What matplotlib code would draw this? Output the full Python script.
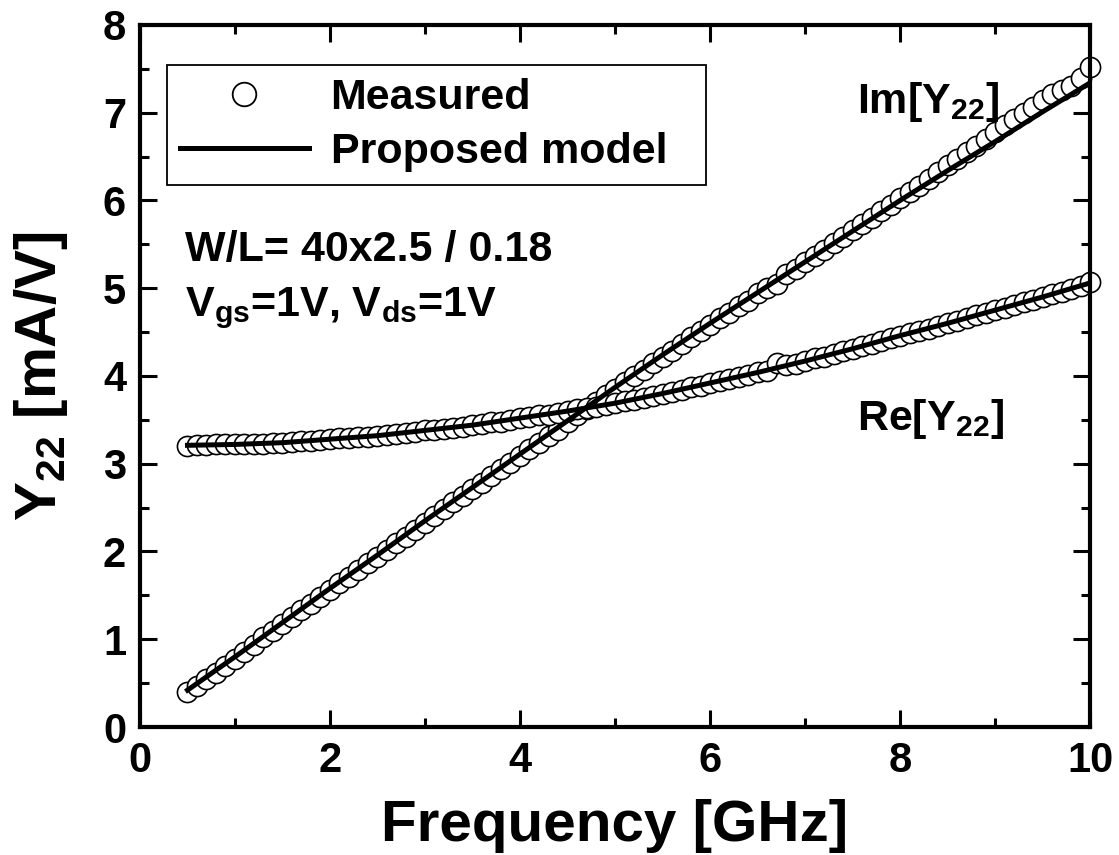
import matplotlib
matplotlib.use("Agg")
import matplotlib.pyplot as plt
from matplotlib.lines import Line2D
from matplotlib.ticker import MultipleLocator

# Fonts: bold Arial-like everywhere
plt.rcParams['font.family'] = ['Liberation Sans', 'DejaVu Sans']
plt.rcParams['font.weight'] = 'bold'
plt.rcParams['axes.labelweight'] = 'bold'
plt.rcParams['mathtext.fontset'] = 'custom'
plt.rcParams['mathtext.rm'] = 'Liberation Sans:bold'
plt.rcParams['mathtext.it'] = 'Liberation Sans:bold'
plt.rcParams['mathtext.bf'] = 'Liberation Sans:bold'
plt.rcParams['mathtext.default'] = 'rm'

# Measured sweep (GHz)
freq = [0.5, 0.6, 0.7, 0.8, 0.9, 1.0, 1.1, 1.2, 1.3, 1.4,
        1.5, 1.6, 1.7, 1.8, 1.9, 2.0, 2.1, 2.2, 2.3, 2.4,
        2.5, 2.6, 2.7, 2.8, 2.9, 3.0, 3.1, 3.2, 3.3, 3.4,
        3.5, 3.6, 3.7, 3.8, 3.9, 4.0, 4.1, 4.2, 4.3, 4.4,
        4.5, 4.6, 4.7, 4.8, 4.9, 5.0, 5.1, 5.2, 5.3, 5.4,
        5.5, 5.6, 5.7, 5.8, 5.9, 6.0, 6.1, 6.2, 6.3, 6.4,
        6.5, 6.6, 6.7, 6.8, 6.9, 7.0, 7.1, 7.2, 7.3, 7.4,
        7.5, 7.6, 7.7, 7.8, 7.9, 8.0, 8.1, 8.2, 8.3, 8.4,
        8.5, 8.6, 8.7, 8.8, 8.9, 9.0, 9.1, 9.2, 9.3, 9.4,
        9.5, 9.6, 9.7, 9.8, 9.9, 10.0]

# Measured Im[Y22] (mA/V)
im_meas = [0.40, 0.47, 0.55, 0.62, 0.70, 0.78, 0.86, 0.94, 1.02, 1.09,
           1.17, 1.25, 1.33, 1.40, 1.48, 1.56, 1.64, 1.71, 1.79, 1.87,
           1.94, 2.02, 2.10, 2.17, 2.25, 2.33, 2.40, 2.48, 2.56, 2.63,
           2.71, 2.78, 2.86, 2.94, 3.01, 3.09, 3.17, 3.24, 3.32, 3.39,
           3.47, 3.55, 3.62, 3.70, 3.78, 3.85, 3.93, 4.00, 4.07, 4.15,
           4.22, 4.29, 4.37, 4.44, 4.51, 4.58, 4.66, 4.72, 4.80, 4.86,
           4.94, 5.00, 5.05, 5.16, 5.22, 5.30, 5.37, 5.44, 5.51, 5.58,
           5.66, 5.73, 5.80, 5.88, 5.95, 6.03, 6.10, 6.17, 6.25, 6.32,
           6.40, 6.47, 6.55, 6.62, 6.70, 6.78, 6.86, 6.93, 7.00, 7.07,
           7.14, 7.21, 7.26, 7.30, 7.40, 7.52]

# Measured Re[Y22] (mA/V)
re_meas = [3.20, 3.21, 3.21, 3.22, 3.22, 3.22, 3.23, 3.23, 3.23, 3.24,
           3.24, 3.25, 3.26, 3.26, 3.27, 3.28, 3.29, 3.29, 3.30, 3.31,
           3.32, 3.33, 3.34, 3.35, 3.36, 3.38, 3.39, 3.40, 3.41, 3.42,
           3.44, 3.45, 3.47, 3.48, 3.50, 3.52, 3.53, 3.55, 3.56, 3.58,
           3.60, 3.62, 3.63, 3.65, 3.67, 3.69, 3.71, 3.73, 3.75, 3.77,
           3.79, 3.82, 3.84, 3.87, 3.89, 3.92, 3.94, 3.96, 3.99, 4.01,
           4.04, 4.06, 4.15, 4.12, 4.14, 4.17, 4.20, 4.22, 4.25, 4.28,
           4.31, 4.34, 4.37, 4.40, 4.43, 4.46, 4.49, 4.51, 4.54, 4.57,
           4.60, 4.63, 4.66, 4.69, 4.72, 4.75, 4.78, 4.81, 4.84, 4.87,
           4.90, 4.93, 4.96, 4.99, 5.02, 5.07]

# Proposed model curves
model_freq = [0.5, 1.0, 1.5, 2.0, 2.5, 3.0, 3.5, 4.0, 4.5, 5.0,
              5.5, 6.0, 6.5, 7.0, 7.5, 8.0, 8.5, 9.0, 9.5, 10.0]
im_model = [0.42, 0.80, 1.19, 1.58, 1.96, 2.35, 2.73, 3.11, 3.49, 3.87,
            4.24, 4.60, 4.95, 5.30, 5.65, 6.00, 6.34, 6.67, 7.01, 7.34]
re_model = [3.21, 3.22, 3.24, 3.28, 3.32, 3.38, 3.44, 3.52, 3.60, 3.69,
            3.80, 3.92, 4.04, 4.17, 4.31, 4.46, 4.60, 4.75, 4.90, 5.06]

fig = plt.figure(figsize=(11.19, 8.55), dpi=100)
ax = fig.add_axes([0.1251, 0.1497, 0.849, 0.8211])

# measured points (open circles)
for y in (im_meas, re_meas):
    ax.plot(freq, y, 'o', ms=14.5, mfc='white', mec='black', mew=1.2,
            clip_on=False, zorder=2)

# model lines on top
for y in (im_model, re_model):
    ax.plot(model_freq, y, '-', color='black', lw=3.6, zorder=3)

ax.set_xlim(0, 10)
ax.set_ylim(0, 8)
ax.xaxis.set_major_locator(MultipleLocator(2))
ax.xaxis.set_minor_locator(MultipleLocator(1))
ax.yaxis.set_major_locator(MultipleLocator(1))
ax.yaxis.set_minor_locator(MultipleLocator(0.5))
ax.tick_params(which='both', direction='in', top=True, right=True, width=2.2)
ax.tick_params(which='major', length=12, labelsize=30, pad=10)
ax.tick_params(which='minor', length=6.5)
for sp in ax.spines.values():
    sp.set_linewidth(3)

ax.set_xlabel('Frequency [GHz]', fontsize=42, labelpad=13)
ax.set_ylabel(r'Y$_{22}$ [mA/V]', fontsize=42, labelpad=24)

# legend
handles = [Line2D([], [], ls='none', marker='o', ms=17, mfc='white', mec='black', mew=1.3),
           Line2D([], [], color='black', lw=3.6)]
leg = ax.legend(handles, ['Measured', 'Proposed model'], loc='upper left',
                bbox_to_anchor=(0.0284, 0.843, 0.567, 0.1), mode='expand',
                borderaxespad=0, fontsize=31, frameon=True, fancybox=False,
                edgecolor='black', framealpha=1, borderpad=0.3, labelspacing=0.33,
                handlelength=3.0, handletextpad=0.5)
leg.get_frame().set_linewidth(1.3)

# annotations
ax.text(0.047, 0.664, 'W/L= 40x2.5 / 0.18', transform=ax.transAxes, fontsize=31)
ax.text(0.047, 0.585, r'V$_{gs}$=1V, V$_{ds}$=1V', transform=ax.transAxes, fontsize=31)
ax.text(0.755, 0.875, r'Im[Y$_{22}$]', transform=ax.transAxes, fontsize=31)
ax.text(0.755, 0.423, r'Re[Y$_{22}$]', transform=ax.transAxes, fontsize=31)

fig.savefig('out.png', dpi=100)
